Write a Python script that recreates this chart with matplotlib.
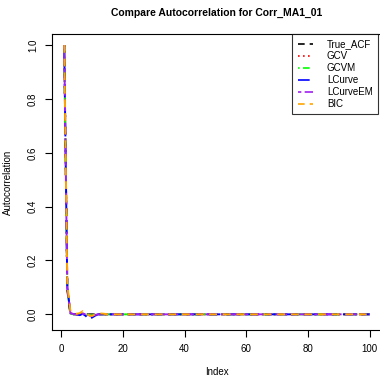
import numpy as np
import matplotlib.pyplot as plt

# lags 1..100 (first values, tail is ~0)
index = np.arange(1, 101)
true_acf = [1.0, 0.09] + [0.0] * 98
gcv = [1.0, 0.10, 0.004, 0.002, 0.0, -0.002, 0.003, 0.002, -0.003, -0.004, 0.0, 0.001] + [0.0] * 88
gcvm = [1.0, 0.095, 0.003, 0.0, 0.001, -0.001, 0.002, 0.0, -0.002, -0.003, 0.0, 0.0] + [0.0] * 88
lcurve = [1.0, 0.10, 0.005, 0.002, 0.0, -0.003, 0.002, -0.006, -0.018, -0.012, -0.005, 0.0] + [0.0] * 88
lcurve_em = [1.0, 0.098, 0.004, 0.001, 0.0, -0.002, 0.002, 0.001, -0.004, -0.006, -0.002, 0.0] + [0.0] * 88
bic = [1.0, 0.11, 0.012, 0.006, 0.002, 0.004, 0.012, 0.006, -0.004, -0.006, 0.0, 0.002, 0.003, 0.002] + [0.0] * 86

series = [
    ("True_ACF", true_acf, "black", (0, (4, 3))),
    ("GCV", gcv, "#FF0000", (0, (1, 2))),
    ("GCVM", gcvm, "#00FF00", (0, (1, 2, 4, 2))),
    ("LCurve", lcurve, "#0000FF", (0, (7, 3))),
    ("LCurveEM", lcurve_em, "#A020F0", (0, (2, 2, 6, 2))),
    ("BIC", bic, "#FFA500", (0, (4, 3))),
]

plt.rcParams['font.family'] = ['Liberation Sans', 'DejaVu Sans']
fig = plt.figure(figsize=(3.8, 3.83), dpi=100)
# plot region runs slightly past the right edge, like the reference crop
ax = fig.add_axes([52 / 380, 0.138, 330 / 380, 0.773])

for name, vals, col, ls in series:
    ax.plot(index, vals, color=col, linestyle=ls, linewidth=1.4, label=name)

ax.set_xlim(-2.96, 103.96)
allv = np.concatenate([np.array(s[1]) for s in series])
lo, hi = allv.min(), allv.max()
pad = 0.04 * (hi - lo)
ax.set_ylim(lo - pad, hi + pad)
ax.set_xticks([0, 20, 40, 60, 80, 100])
ax.set_yticks([0.0, 0.2, 0.4, 0.6, 0.8, 1.0])
ax.set_yticklabels(["0.0", "0.2", "0.4", "0.6", "0.8", "1.0"], rotation=90, va="center")
ax.tick_params(labelsize=7, length=5, width=0.8, direction="out", pad=5)
for sp in ax.spines.values():
    sp.set_linewidth(0.8)

ax.set_xlabel("Index", fontsize=7, labelpad=9)
ax.set_ylabel("Autocorrelation", fontsize=7, labelpad=11)
ax.set_title("Compare Autocorrelation for Corr_MA1_01", fontsize=7.5, fontweight="bold", pad=13)

leg = ax.legend(loc="upper right", bbox_to_anchor=(378 / 380, 1 - 34 / 383),
                bbox_transform=fig.transFigure, fontsize=7, frameon=True,
                fancybox=False, edgecolor="black", handlelength=1.6,
                labelspacing=0.2, borderaxespad=0, borderpad=0.55,
                handletextpad=1.4)
leg.get_frame().set_linewidth(0.8)
for line in leg.get_lines():
    line.set_linewidth(1.2)

fig.savefig("out.png", dpi=100)
